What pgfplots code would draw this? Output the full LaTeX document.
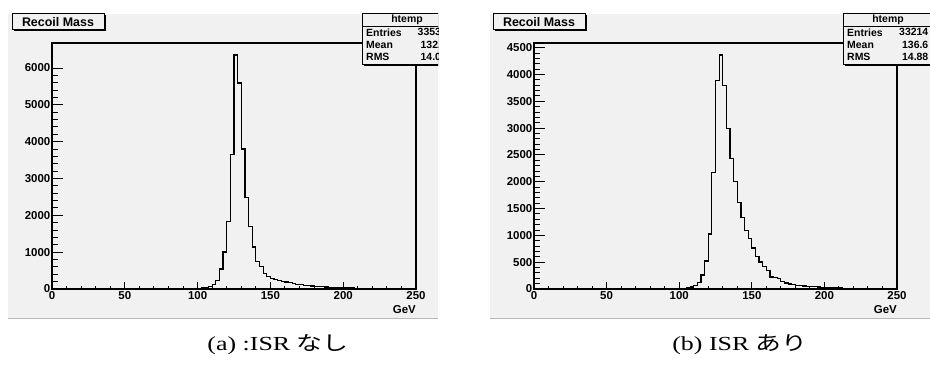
\documentclass[border=0pt]{standalone}
\usepackage{pgfplots}
\pgfplotsset{compat=1.18}
\usepackage{pgfplotstable}
\usepackage{fontspec}
\setmainfont{Liberation Serif}
\newfontfamily\rootfont{Liberation Sans}
\newfontfamily\cjk{Noto Sans CJK JP}
\definecolor{padgray}{RGB}{241,241,241}
\definecolor{edgegray}{RGB}{185,185,185}

% ISR off: lower bin edge (GeV), entries
\pgfplotstableread{
x y
0 0
85 2
87.5 3
90 4
92.5 6
95 9
97.5 14
100 20
102.5 28
105 40
107.5 65
110 117
112.5 235
115 542
117.5 1003
120 1843
122.5 3660
125 6352
127.5 5593
130 3804
132.5 2476
135 1690
137.5 1138
140 745
142.5 604
145 425
147.5 334
150 290
152.5 262
155 236
157.5 212
160 190
162.5 170
165 150
167.5 132
170 116
172.5 102
175 90
177.5 80
180 72
182.5 64
185 58
187.5 52
190 47
192.5 43
195 39
197.5 35
200 32
202.5 28
205 25
207.5 21
210 18
212.5 15
215 12
217.5 10
220 8
222.5 6
225 5
227.5 4
230 3
232.5 2
235 1
237.5 1
240 0
250 0
}\histA

% ISR on
\pgfplotstableread{
x y
0 0
90 1
92.5 1
95 2
97.5 4
100 6
102.5 12
105 19
107.5 37
110 68
112.5 124
115 261
117.5 521
120 1024
122.5 2173
125 3892
127.5 4364
130 3799
132.5 2986
135 2440
137.5 1999
140 1620
142.5 1335
145 1086
147.5 937
150 764
152.5 608
155 503
157.5 422
160 341
162.5 223
165 217
167.5 199
170 143
172.5 112
175 93
177.5 81
180 68
182.5 60
185 55
187.5 50
190 45
192.5 42
195 38
197.5 35
200 32
202.5 28
205 25
207.5 22
210 19
212.5 16
215 13
217.5 11
220 9
222.5 7
225 5
227.5 4
230 3
232.5 2
235 1
237.5 0
250 0
}\histB

\pgfplotsset{
  rootaxis/.style={
    scale only axis, anchor=south west,
    height=246bp,
    xmin=0, xmax=250, ymin=0,
    axis line style={line width=1.1bp, black},
    tick align=inside,
    xtick pos=bottom, ytick pos=left,
    every tick/.style={black, line width=1bp},
    tick label style={font=\rootfont\bfseries\fontsize{11.5}{13}\selectfont},
    /pgf/number format/assume math mode=true,
    /pgf/number format/1000 sep={},
  },
  xpart/.style={
    xtick={0,50,...,250}, minor x tick num=4, ytick=\empty,
    major tick length=7bp, minor tick length=3.5bp,
    xticklabel style={inner sep=1bp, yshift=-1bp},
    xlabel={GeV},
    xlabel style={font=\rootfont\bfseries\fontsize{11.5}{13}\selectfont,
      at={(axis description cs:1,0)}, anchor=north east, inner sep=0pt, yshift=-16bp},
  },
  ypart/.style={
    xtick=\empty, axis line style={draw=none},
    major tick length=11bp, minor tick length=6bp,
    minor y tick num=4,
    yticklabel style={inner sep=1.5bp},
  },
}

\begin{document}
\begin{tikzpicture}[x=1bp,y=1bp]
\useasboundingbox (0,0) rectangle (930,365);
\fill[white] (0,0) rectangle (930,365);

% ---------- pads ----------
\fill[padgray] (8,46) rectangle (438,351);
\draw[edgegray, line width=1.5bp] (8,46.5) -- (438,46.5);
\fill[padgray] (490,46) rectangle (940,351);
\draw[edgegray, line width=1.5bp] (490,46.5) -- (940,46.5);

% ---------- title boxes ----------
\foreach \xo in {0,481}{
  \fill[black] (\xo+13.5,333.5) rectangle (\xo+105.5,349.5);
  \draw[black, line width=1bp, fill=padgray] (\xo+12,335) rectangle (\xo+104,351);
  \node[font=\rootfont\bfseries\fontsize{12.5}{14}\selectfont] at (\xo+58,343) {Recoil Mass};
}

% ---------- left axes ----------
\begin{axis}[rootaxis, xpart, at={(52bp,76bp)}, width=364bp, ymax=6680]
\addplot[const plot, black, line width=1.2bp] table[x=x,y=y] {\histA};
\end{axis}
\begin{axis}[rootaxis, ypart, at={(52bp,76bp)}, width=364bp, ymax=6680,
  ytick={0,1000,...,6000}]
\end{axis}

% ---------- right axes ----------
\begin{axis}[rootaxis, xpart, at={(534bp,76bp)}, width=363bp, ymax=4588]
\addplot[const plot, black, line width=1.2bp] table[x=x,y=y] {\histB};
\end{axis}
\begin{axis}[rootaxis, ypart, at={(534bp,76bp)}, width=363bp, ymax=4588,
  ytick={0,500,...,4500}]
\end{axis}

% ---------- stats boxes ----------
\begin{scope}
\clip (0,0) rectangle (438,365);
\fill[black] (363.5,299.5) rectangle (453.5,349.5);
\draw[black, line width=1bp, fill=padgray] (362,301) rectangle (452,351);
\draw[black, line width=0.8bp] (362,339) -- (452,339);
\begin{scope}[every node/.style={font=\rootfont\bfseries\fontsize{10.5}{12}\selectfont, inner sep=0pt}]
\node at (407,345.5) {htemp};
\node[anchor=west] at (366,332.7) {Entries};
\node[anchor=west] at (366,319.7) {Mean};
\node[anchor=west] at (366,307.7) {RMS};
\node[anchor=east] at (447,332.7) {33533};
\node[anchor=east] at (447,319.7) {132.2};
\node[anchor=east] at (447,307.7) {14.03};
\end{scope}
\end{scope}

\begin{scope}
\fill[black] (844.5,299.5) rectangle (934.5,349.5);
\draw[black, line width=1bp, fill=padgray] (843,301) rectangle (933,351);
\draw[black, line width=0.8bp] (843,339) -- (933,339);
\begin{scope}[every node/.style={font=\rootfont\bfseries\fontsize{10.5}{12}\selectfont, inner sep=0pt}]
\node at (888,345.5) {htemp};
\node[anchor=west] at (847,332.7) {Entries};
\node[anchor=west] at (847,319.7) {Mean};
\node[anchor=west] at (847,307.7) {RMS};
\node[anchor=east] at (928.5,332.7) {33214};
\node[anchor=east] at (928.5,319.7) {136.6};
\node[anchor=east] at (928.5,307.7) {14.88};
\end{scope}
\end{scope}

% ---------- captions ----------
\node[font=\fontsize{20}{23}\selectfont] at (278,20) {\scalebox{1.3}[1]{(a) :ISR {\cjk なし}}};
\node[font=\fontsize{20}{23}\selectfont] at (740,20) {\scalebox{1.3}[1]{(b) ISR {\cjk あり}}};
\end{tikzpicture}
\end{document}
